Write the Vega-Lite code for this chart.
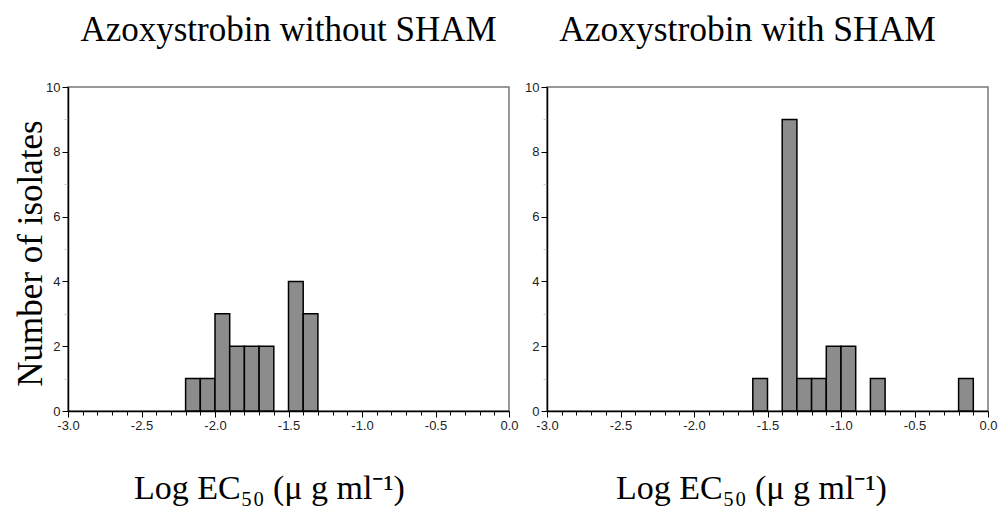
{
  "$schema": "https://vega.github.io/schema/vega-lite/v6.json",
  "autosize": {"type": "pad"},
  "padding": {"left": 12, "top": 11, "right": 0, "bottom": 0},
  "background": "white",
  "data": {"values": [
    {"panel": "without", "start": -2.2, "end": -2.1, "count": 1},
    {"panel": "without", "start": -2.1, "end": -2.0, "count": 1},
    {"panel": "without", "start": -2.0, "end": -1.9, "count": 3},
    {"panel": "without", "start": -1.9, "end": -1.8, "count": 2},
    {"panel": "without", "start": -1.8, "end": -1.7, "count": 2},
    {"panel": "without", "start": -1.7, "end": -1.6, "count": 2},
    {"panel": "without", "start": -1.5, "end": -1.4, "count": 4},
    {"panel": "without", "start": -1.4, "end": -1.3, "count": 3},
    {"panel": "with", "start": -1.6, "end": -1.5, "count": 1},
    {"panel": "with", "start": -1.4, "end": -1.3, "count": 9},
    {"panel": "with", "start": -1.3, "end": -1.2, "count": 1},
    {"panel": "with", "start": -1.2, "end": -1.1, "count": 1},
    {"panel": "with", "start": -1.1, "end": -1.0, "count": 2},
    {"panel": "with", "start": -1.0, "end": -0.9, "count": 2},
    {"panel": "with", "start": -0.8, "end": -0.7, "count": 1},
    {"panel": "with", "start": -0.2, "end": -0.1, "count": 1}
  ]},
  "hconcat": [
    {
      "width": 441, "height": 324,
      "title": {"text": "Azoxystrobin without SHAM", "font": "Liberation Serif", "fontSize": 35, "fontWeight": "normal", "color": "black", "anchor": "middle", "frame": "group", "baseline": "alphabetic", "offset": 5},
      "transform": [{"filter": "datum.panel == 'without'"}],
      "mark": {"type": "bar", "fill": "#8c8c8c", "stroke": "black", "strokeWidth": 1.5},
      "encoding": {
        "x": {"field": "start", "type": "quantitative", "scale": {"domain": [-3, 0], "nice": false, "zero": false},
          "axis": {"title": "Log EC₅₀ (μ  g ml⁻¹)", "titleX": 201, "titleY": 87, "titleAlign": "center", "titleBaseline": "alphabetic", "titleAnchor": null,
            "values": [-3.0,-2.9,-2.8,-2.7,-2.6,-2.5,-2.4,-2.3,-2.2,-2.1,-2.0,-1.9,-1.8,-1.7,-1.6,-1.5,-1.4,-1.3,-1.2,-1.1,-1.0,-0.9,-0.8,-0.7,-0.6,-0.5,-0.4,-0.3,-0.2,-0.1,0.0],
            "labelExpr": "abs(datum.value*2 - round(datum.value*2)) < 0.001 ? replace(format(datum.value, '.1f'), '−', '-') : ''",
            "tickSize": {"condition": {"test": "abs(datum.value*2 - round(datum.value*2)) < 0.001", "value": 6}, "value": 4}
          }},
        "x2": {"field": "end"},
        "y": {"field": "count", "type": "quantitative", "scale": {"domain": [0, 10], "nice": false},
          "axis": {"title": "Number of isolates", "titleAngle": 270, "titleX": -27, "titleY": 166, "titleAlign": "center", "titleBaseline": "alphabetic", "titleFontSize": 35,
            "values": [0,1,2,3,4,5,6,7,8,9,10],
            "labelExpr": "datum.value % 2 == 0 ? datum.label : ''",
            "tickSize": {"condition": {"test": "datum.value % 2 == 0", "value": 6}, "value": 4},
            "tickColor": {"condition": {"test": "datum.value % 2 == 0", "value": "black"}, "value": "#cccccc"}
          }},
        "y2": {"datum": 0}
      }
    },
    {
      "width": 441, "height": 324,
      "title": {"text": "Azoxystrobin with SHAM", "font": "Liberation Serif", "fontSize": 35.5, "fontWeight": "normal", "color": "black", "anchor": "middle", "frame": "group", "baseline": "alphabetic", "offset": 5, "dx": -20},
      "transform": [{"filter": "datum.panel == 'with'"}],
      "mark": {"type": "bar", "fill": "#8c8c8c", "stroke": "black", "strokeWidth": 1.5},
      "encoding": {
        "x": {"field": "start", "type": "quantitative", "scale": {"domain": [-3, 0], "nice": false, "zero": false},
          "axis": {"title": "Log EC₅₀ (μ  g ml⁻¹)", "titleX": 204, "titleY": 87, "titleAlign": "center", "titleBaseline": "alphabetic", "titleAnchor": null,
            "values": [-3.0,-2.9,-2.8,-2.7,-2.6,-2.5,-2.4,-2.3,-2.2,-2.1,-2.0,-1.9,-1.8,-1.7,-1.6,-1.5,-1.4,-1.3,-1.2,-1.1,-1.0,-0.9,-0.8,-0.7,-0.6,-0.5,-0.4,-0.3,-0.2,-0.1,0.0],
            "labelExpr": "abs(datum.value*2 - round(datum.value*2)) < 0.001 ? replace(format(datum.value, '.1f'), '−', '-') : ''",
            "tickSize": {"condition": {"test": "abs(datum.value*2 - round(datum.value*2)) < 0.001", "value": 6}, "value": 4}
          }},
        "x2": {"field": "end"},
        "y": {"field": "count", "type": "quantitative", "scale": {"domain": [0, 10], "nice": false},
          "axis": {"title": null,
            "values": [0,1,2,3,4,5,6,7,8,9,10],
            "labelExpr": "datum.value % 2 == 0 ? datum.label : ''",
            "tickSize": {"condition": {"test": "datum.value % 2 == 0", "value": 6}, "value": 4},
            "tickColor": {"condition": {"test": "datum.value % 2 == 0", "value": "black"}, "value": "#cccccc"}
          }},
        "y2": {"datum": 0}
      }
    }
  ],
  "spacing": 38,
  "bounds": "flush",
  "config": {
    "view": {"stroke": "#777777", "strokeWidth": 1.5},
    "axis": {
      "grid": false,
      "domainColor": "black", "domainWidth": 1.5,
      "tickColor": "black", "tickWidth": 1,
      "labelFont": "Liberation Sans", "labelFontSize": 13, "labelColor": "#222222", "labelPadding": 2,
      "labelOverlap": false, "labelFlush": false, "labelBound": false,
      "titleFont": "Liberation Serif", "titleFontSize": 34, "titleFontWeight": "normal", "titleColor": "black", "titlePadding": 0
    }
  }
}
